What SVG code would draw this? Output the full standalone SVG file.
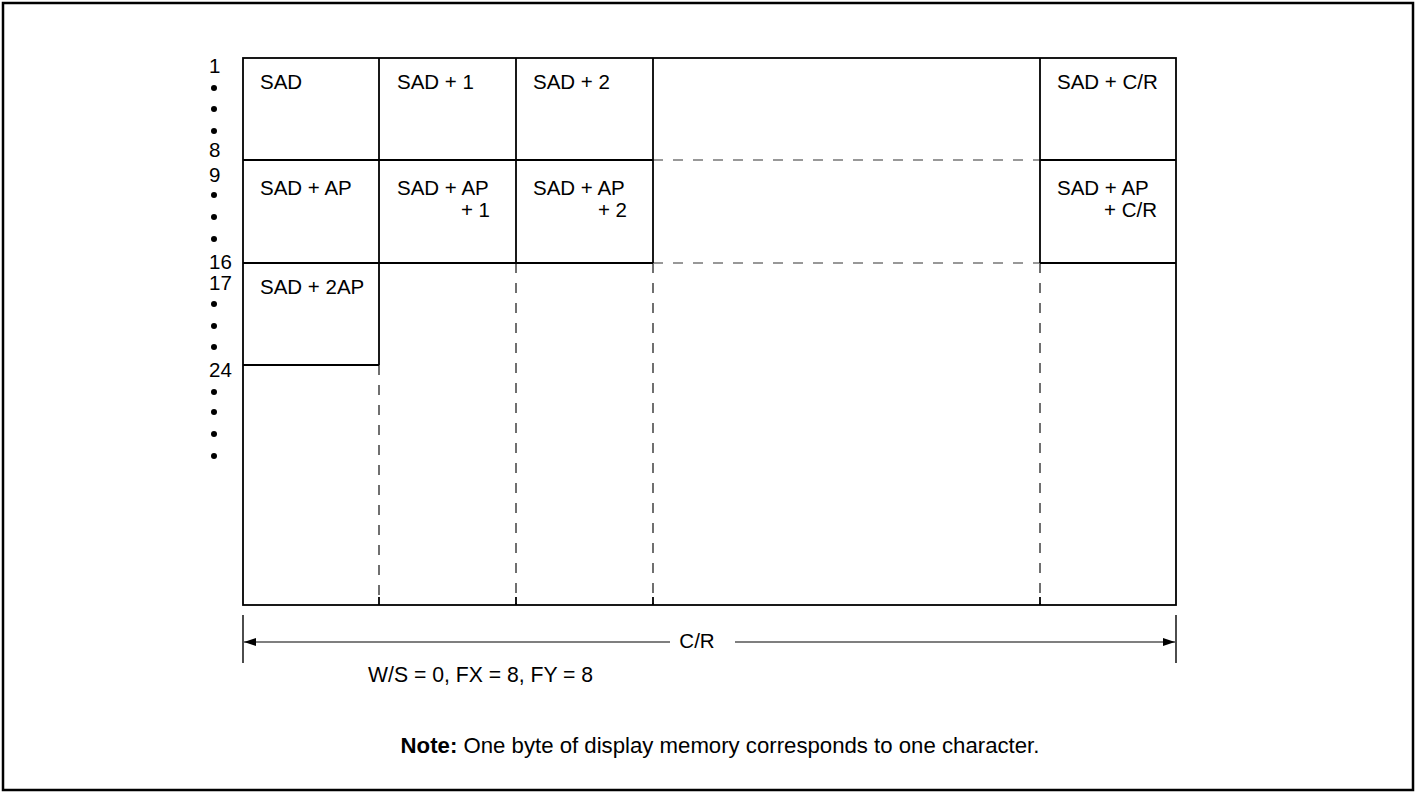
<svg xmlns="http://www.w3.org/2000/svg" width="1416" height="792" viewBox="0 0 1416 792">
<defs>
<style>
text{font-family:"Liberation Sans",Arial,sans-serif;font-size:20.5px;fill:#000}
text.params{font-size:21.2px}
text.note{font-size:22.2px}
.solid{stroke:#000;stroke-width:1.8;fill:none}
.dash{stroke:#333;stroke-width:1.4;stroke-dasharray:10 10;fill:none}
.hdash{stroke:#777;stroke-width:1.4;stroke-dasharray:10 10;fill:none}
.dot{fill:#000}
</style>
<marker id="ah" viewBox="0 0 12 8" refX="12" refY="4" markerWidth="12" markerHeight="8" markerUnits="userSpaceOnUse" orient="auto-start-reverse">
<path d="M0,0 L12,4 L0,8 Z" fill="#000"/>
</marker>
</defs>
<rect x="3" y="3" width="1410" height="787" fill="#fff" stroke="#000" stroke-width="2.5"/>
<g id="connectors">
<line class="dash" x1="379" y1="365" x2="379" y2="605"/>
<line class="dash" x1="516" y1="263" x2="516" y2="605"/>
<line class="dash" x1="653" y1="263" x2="653" y2="605"/>
<line class="dash" x1="1040" y1="263" x2="1040" y2="605"/>
<line class="hdash" x1="653" y1="160" x2="1040" y2="160"/>
<line class="hdash" x1="653" y1="263" x2="1040" y2="263"/>
<line x1="243" y1="615" x2="243" y2="663" stroke="#000" stroke-width="1.4"/>
<line x1="1176" y1="615" x2="1176" y2="663" stroke="#000" stroke-width="1.4"/>
<line x1="244" y1="642" x2="670" y2="642" stroke="#555" stroke-width="1.6" marker-start="url(#ah)"/>
<line x1="735" y1="642" x2="1175" y2="642" stroke="#555" stroke-width="1.6" marker-end="url(#ah)"/>
</g>
<g id="grid">
<rect class="solid" x="243" y="58" width="933" height="547"/>
<line class="solid" x1="379" y1="58" x2="379" y2="365"/>
<line class="solid" x1="516" y1="58" x2="516" y2="263"/>
<line class="solid" x1="653" y1="58" x2="653" y2="263"/>
<line class="solid" x1="1040" y1="58" x2="1040" y2="263"/>
<line class="solid" x1="243" y1="160" x2="653" y2="160"/>
<line class="solid" x1="1040" y1="160" x2="1176" y2="160"/>
<line class="solid" x1="243" y1="263" x2="653" y2="263"/>
<line class="solid" x1="1040" y1="263" x2="1176" y2="263"/>
<line class="solid" x1="243" y1="365" x2="379" y2="365"/>
<line x1="379" y1="597" x2="379" y2="605" class="solid"/>
<line x1="516" y1="597" x2="516" y2="605" class="solid"/>
<line x1="653" y1="597" x2="653" y2="605" class="solid"/>
<line x1="1040" y1="597" x2="1040" y2="605" class="solid"/>
</g>
<g id="cell-sad"><text x="260" y="89">SAD</text></g>
<g id="cell-sad1"><text x="397" y="89">SAD + 1</text></g>
<g id="cell-sad2"><text x="533" y="89">SAD + 2</text></g>
<g id="cell-sadcr"><text x="1057" y="89">SAD + C/R</text></g>
<g id="cell-sadap"><text x="260" y="195">SAD + AP</text></g>
<g id="cell-sadap1"><text x="397" y="195">SAD + AP</text><text x="490" y="217" text-anchor="end">+ 1</text></g>
<g id="cell-sadap2"><text x="533" y="195">SAD + AP</text><text x="627" y="217" text-anchor="end">+ 2</text></g>
<g id="cell-sadapcr"><text x="1057" y="195">SAD + AP</text><text x="1157" y="217" text-anchor="end">+ C/R</text></g>
<g id="cell-sad2ap"><text x="260" y="294">SAD + 2AP</text></g>
<g id="row-labels">
<text x="209" y="73">1</text>
<circle class="dot" cx="214" cy="88" r="3"/>
<circle class="dot" cx="214" cy="109" r="3"/>
<circle class="dot" cx="214" cy="131" r="3"/>
<text x="209" y="157">8</text>
<text x="209" y="182">9</text>
<circle class="dot" cx="214" cy="195" r="3"/>
<circle class="dot" cx="214" cy="217" r="3"/>
<circle class="dot" cx="214" cy="239" r="3"/>
<text x="209" y="269">16</text>
<text x="209" y="290">17</text>
<circle class="dot" cx="214" cy="304" r="3"/>
<circle class="dot" cx="214" cy="326" r="3"/>
<circle class="dot" cx="214" cy="347" r="3"/>
<text x="209" y="377">24</text>
<circle class="dot" cx="214" cy="392" r="3"/>
<circle class="dot" cx="214" cy="412" r="3"/>
<circle class="dot" cx="214" cy="434" r="3"/>
<circle class="dot" cx="214" cy="456" r="3"/>
</g>
<g id="dim-label"><text x="697" y="648" text-anchor="middle">C/R</text></g>
<g id="params"><text class="params" x="368" y="682">W/S = 0, FX = 8, FY = 8</text></g>
<g id="note"><text class="note" x="720" y="753" text-anchor="middle"><tspan font-weight="bold">Note:</tspan> One byte of display memory corresponds to one character.</text></g>
</svg>
